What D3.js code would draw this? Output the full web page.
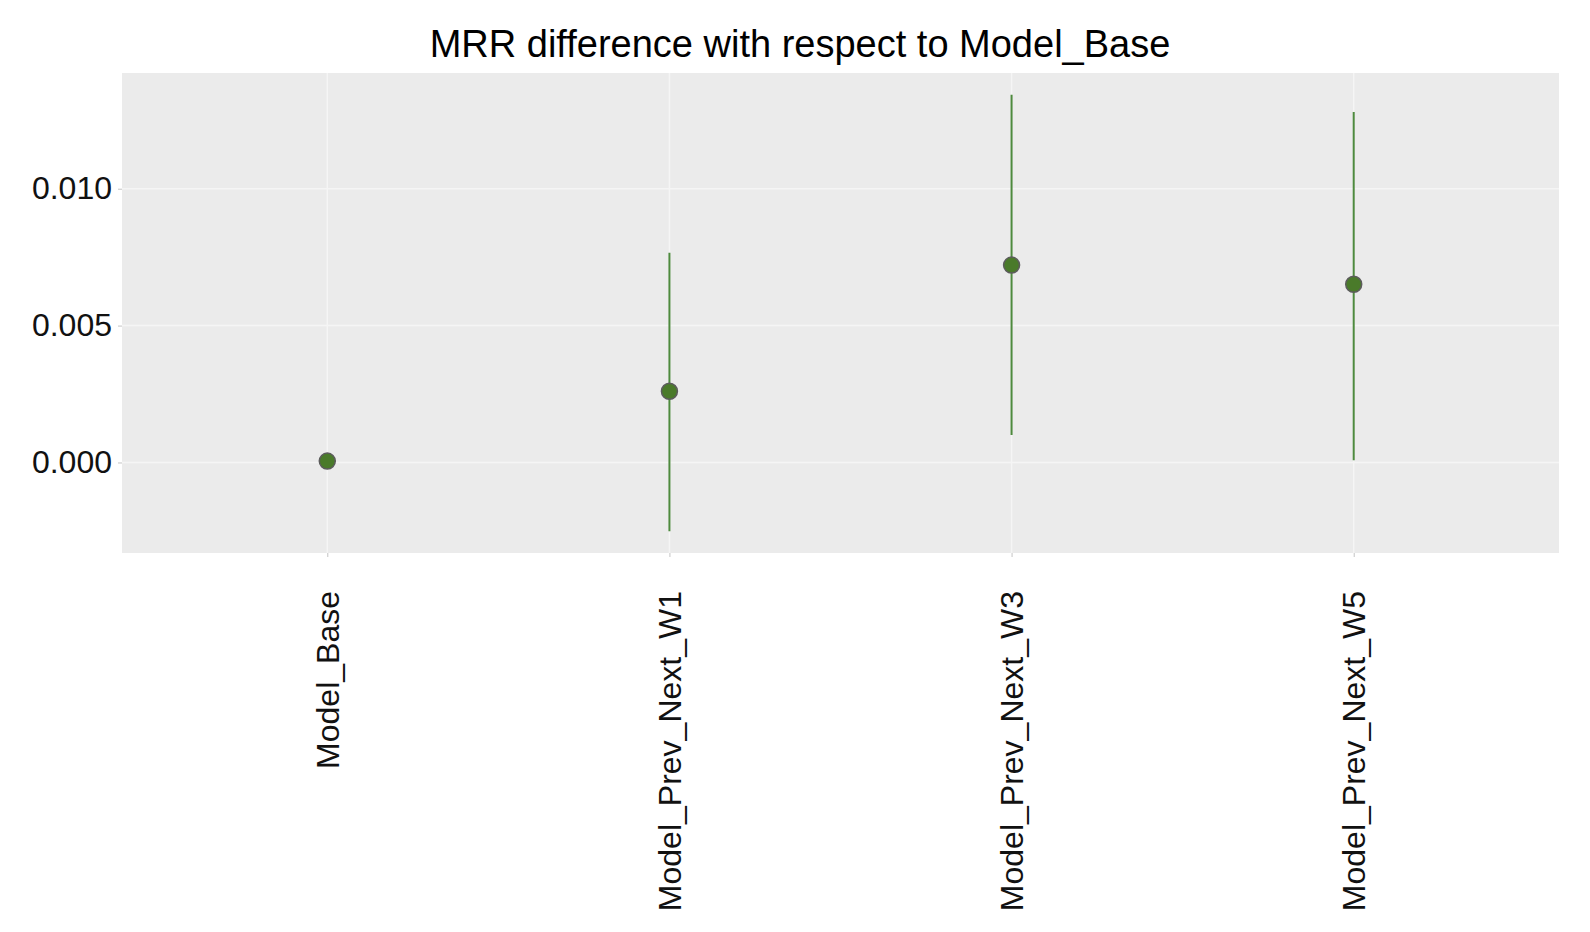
<!DOCTYPE html>
<html>
<head>
<meta charset="utf-8">
<script src="https://cdn.jsdelivr.net/npm/d3@7"></script>
<style>
  body { margin: 0; background: #fff; }
  svg { display: block; font-family: "Liberation Sans", Arial, sans-serif; }
</style>
</head>
<body>
<svg width="1590" height="932"></svg>
<script>
// chart values
var models = ['Model_Base', 'Model_Prev_Next_W1', 'Model_Prev_Next_W3', 'Model_Prev_Next_W5'];
var meanDiff = [0.00005, 0.0026, 0.00721, 0.00651];
var lowerCI = [0.00005, -0.00251, 0.00100, 0.00008];
var upperCI = [0.00005, 0.00766, 0.01343, 0.01280];
var yTicks = [0, 0.005, 0.010];
var title = 'MRR difference with respect to Model_Base';

var svg = d3.select('svg');
var margin = {top: 73, right: 31, bottom: 379, left: 122};
var width = 1590, height = 932;
var innerWidth = width - margin.left - margin.right;
var innerHeight = height - margin.top - margin.bottom;

var rows = models.map(function (m, i) {
  return {model: m, mean: meanDiff[i], lo: lowerCI[i], hi: upperCI[i]};
});

// ggplot-like 5% expansion of the data range
var lo = d3.min(rows, d => d.lo), hi = d3.max(rows, d => d.hi);
var pad = (hi - lo) * 0.05;

var xScale = d3.scalePoint().domain(models).range([0, innerWidth]).padding(0.6);
var yScale = d3.scaleLinear().domain([lo - pad, hi + pad]).range([innerHeight, 0]);

var g = svg.append('g').attr('transform', 'translate(' + margin.left + ',' + margin.top + ')');

g.append('rect')
  .attr('width', innerWidth)
  .attr('height', innerHeight)
  .attr('fill', '#ebebeb');

// grid
g.selectAll('.hgrid')
  .data(yTicks)
  .enter().append('line')
  .attr('x1', 0).attr('x2', innerWidth)
  .attr('y1', d => yScale(d)).attr('y2', d => yScale(d))
  .attr('stroke', '#f5f5f5').attr('stroke-width', 1.5);
g.selectAll('.vgrid')
  .data(models)
  .enter().append('line')
  .attr('x1', d => xScale(d)).attr('x2', d => xScale(d))
  .attr('y1', 0).attr('y2', innerHeight)
  .attr('stroke', '#f5f5f5').attr('stroke-width', 1.5);

// axes
var yAxis = d3.axisLeft(yScale).tickValues(yTicks).tickFormat(d3.format('.3f')).tickSize(4).tickPadding(6);
var yG = g.append('g').call(yAxis);
yG.select('.domain').remove();
yG.selectAll('line').attr('stroke', '#c4c4c4');
yG.selectAll('text').attr('font-size', 32).attr('fill', '#111').attr('font-family', '"Liberation Sans", Arial, sans-serif');

var xAxis = d3.axisBottom(xScale).tickSize(4).tickPadding(0);
var xG = g.append('g').attr('transform', 'translate(0,' + innerHeight + ')').call(xAxis);
xG.select('.domain').remove();
xG.selectAll('line').attr('stroke', '#c4c4c4');
xG.selectAll('text')
  .attr('font-size', 32)
  .attr('fill', '#111')
  .attr('font-family', '"Liberation Sans", Arial, sans-serif')
  .attr('text-anchor', 'end')
  .attr('transform', 'translate(0,38) rotate(-90)')
  .attr('x', 0).attr('y', 0)
  .attr('dy', '0.35em');

// error bars
g.selectAll('.bar')
  .data(rows)
  .enter().append('line')
  .attr('x1', d => xScale(d.model)).attr('x2', d => xScale(d.model))
  .attr('y1', d => yScale(d.lo)).attr('y2', d => yScale(d.hi))
  .attr('stroke', '#4e8a3e').attr('stroke-width', 2);

// points
g.selectAll('.pt')
  .data(rows)
  .enter().append('circle')
  .attr('cx', d => xScale(d.model))
  .attr('cy', d => yScale(d.mean))
  .attr('r', 8)
  .attr('fill', '#4a7a2a')
  .attr('stroke', '#5c5c5c')
  .attr('stroke-width', 1.5);

svg.append('text')
  .attr('x', 800)
  .attr('y', 57)
  .attr('text-anchor', 'middle')
  .attr('font-size', 38)
  .attr('fill', '#000')
  .text(title);
</script>
</body>
</html>
